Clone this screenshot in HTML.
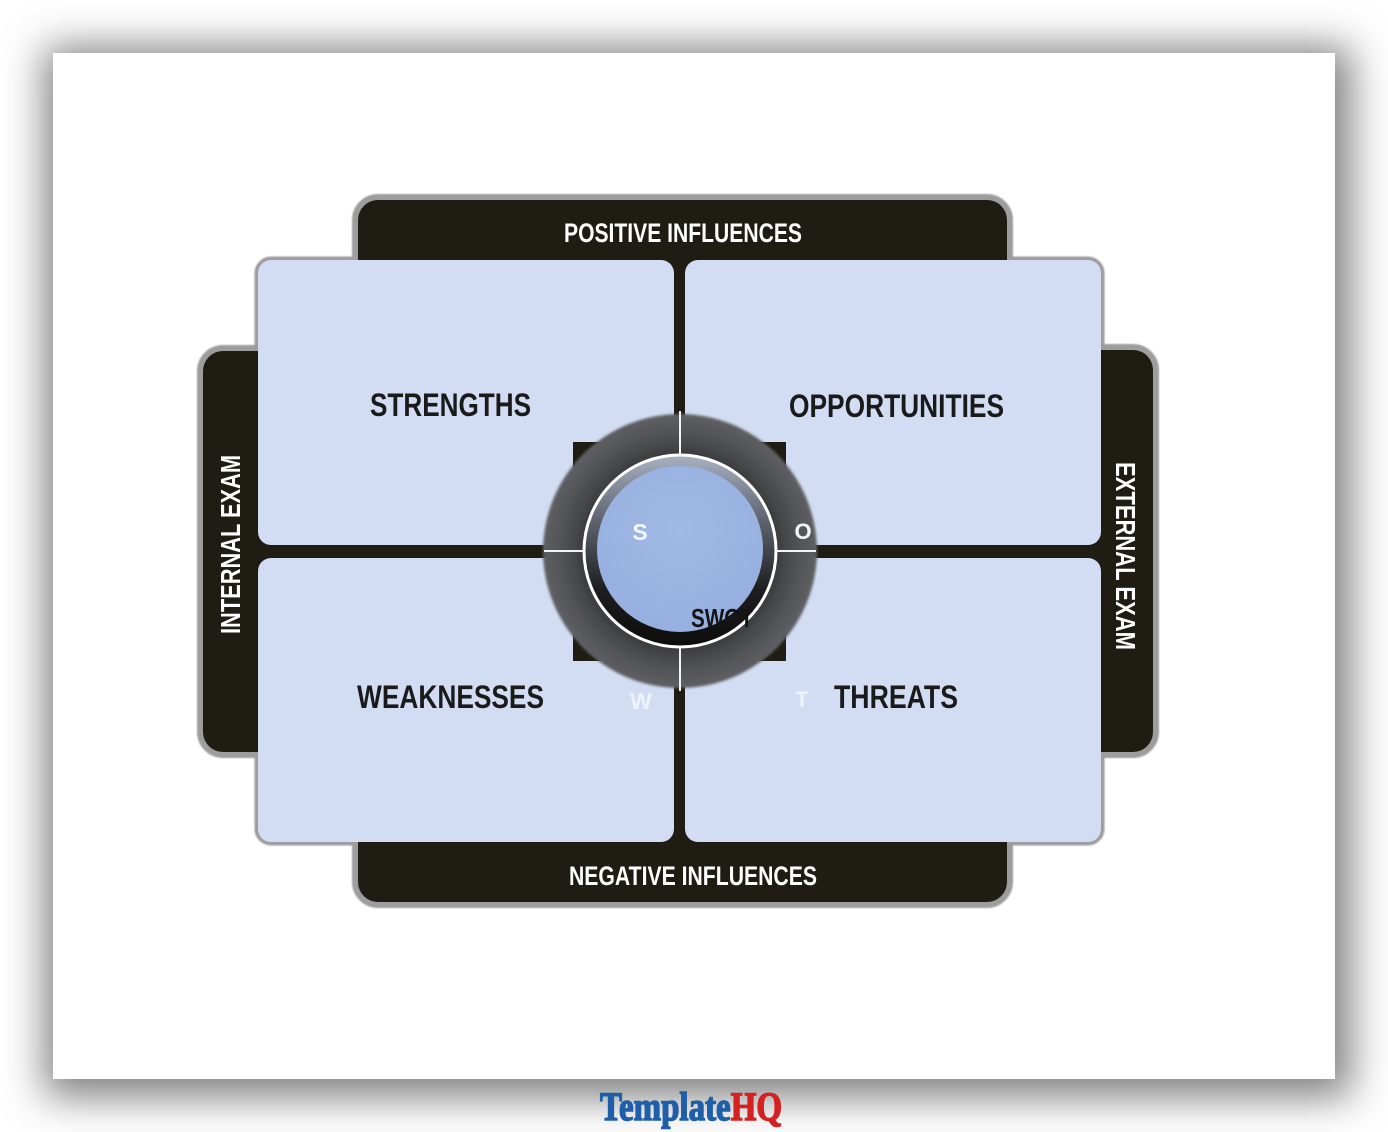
<!DOCTYPE html>
<html>
<head>
<meta charset="utf-8">
<style>
  html,body{margin:0;padding:0;background:#fff;}
  body{width:1388px;height:1132px;position:relative;overflow:hidden;}
  .page{position:absolute;left:53px;top:53px;width:1282px;height:1026px;background:#fff;
    box-shadow:4px 6px 38px 12px rgba(0,0,0,0.5);}
  svg{position:absolute;left:0;top:0;}
</style>
</head>
<body>
<div class="page"></div>
<svg width="1388" height="1132" viewBox="0 0 1388 1132" xmlns="http://www.w3.org/2000/svg">
  <defs>
    <radialGradient id="ringG" cx="680" cy="551" r="138" gradientUnits="userSpaceOnUse">
      <stop offset="0.68" stop-color="#38383a"/>
      <stop offset="0.78" stop-color="#48494c"/>
      <stop offset="0.9" stop-color="#56575b"/>
      <stop offset="0.97" stop-color="#5c5d61"/>
      <stop offset="1" stop-color="#66676b"/>
    </radialGradient>
    <linearGradient id="bandG" x1="0" y1="0" x2="0" y2="1">
      <stop offset="0" stop-color="#a9b1c2"/>
      <stop offset="0.35" stop-color="#5c616c"/>
      <stop offset="0.7" stop-color="#1e1e20"/>
      <stop offset="1" stop-color="#0c0c0c"/>
    </linearGradient>
    <radialGradient id="blueG" cx="680" cy="530" r="95" gradientUnits="userSpaceOnUse">
      <stop offset="0" stop-color="#a0b9e6"/>
      <stop offset="1" stop-color="#97b0df"/>
    </radialGradient>
    <filter id="soft" x="-10%" y="-10%" width="120%" height="120%">
      <feGaussianBlur stdDeviation="1.2"/>
    </filter>
    <filter id="soft2" x="-10%" y="-10%" width="120%" height="120%">
      <feGaussianBlur stdDeviation="0.8"/>
    </filter>
  </defs>

  <!-- gray outlines -->
  <g fill="#9d9d9d" stroke="#9d9d9d" stroke-width="12" filter="url(#soft2)">
    <rect x="358" y="200" width="649" height="120" rx="20"/>
    <rect x="358" y="790" width="649" height="112" rx="20"/>
    <rect x="203" y="351" width="100" height="401" rx="20"/>
    <rect x="1053" y="350" width="100" height="402" rx="20"/>
  </g>
  <g fill="#9d9d9d" stroke="#9d9d9d" stroke-width="7" filter="url(#soft2)">
    <rect x="258" y="260" width="416" height="285" rx="13"/>
    <rect x="685" y="260" width="416" height="285" rx="13"/>
    <rect x="258" y="558" width="416" height="284" rx="13"/>
    <rect x="685" y="558" width="416" height="284" rx="13"/>
  </g>

  <!-- black frame -->
  <g fill="#1f1c13">
    <rect x="358" y="200" width="649" height="120" rx="20"/>
    <rect x="358" y="790" width="649" height="112" rx="20"/>
    <rect x="203" y="351" width="100" height="401" rx="20"/>
    <rect x="1053" y="350" width="100" height="402" rx="20"/>
    <rect x="262" y="264" width="835" height="574"/>
  </g>

  <!-- panels -->
  <g fill="#d2ddf3">
    <rect x="258" y="260" width="416" height="285" rx="13"/>
    <rect x="685" y="260" width="416" height="285" rx="13"/>
    <rect x="258" y="558" width="416" height="284" rx="13"/>
    <rect x="685" y="558" width="416" height="284" rx="13"/>
  </g>

  <!-- center black square -->
  <rect x="573" y="442" width="213" height="219" fill="#1f1c13"/>

  <!-- ring -->
  <circle cx="680" cy="551" r="137" fill="url(#ringG)" filter="url(#soft)"/>
  <g stroke="#f4f4f4" stroke-width="2">
    <line x1="680" y1="411" x2="680" y2="455"/>
    <line x1="680" y1="647" x2="680" y2="691"/>
    <line x1="544" y1="551" x2="584" y2="551"/>
    <line x1="776" y1="551" x2="816" y2="551"/>
  </g>
  <circle cx="680" cy="551" r="96" fill="url(#bandG)" stroke="#ffffff" stroke-width="3"/>
  <circle cx="680" cy="549" r="83" fill="url(#blueG)"/>

  <!-- ring letters -->
  <g font-family="Liberation Sans, Arial, sans-serif" font-weight="bold" text-anchor="middle">
    <text x="640" y="540" font-size="23" fill="#f4f6fb">S</text>
    <text x="803" y="539" font-size="22" fill="#f4f6fb">O</text>
    <text x="641" y="709" font-size="23" fill="#eef2fb">W</text>
    <text x="802" y="707" font-size="22" fill="#eef2fb">T</text>
  </g>
  <text x="691" y="627" font-family="Liberation Sans, Arial, sans-serif" font-weight="bold" font-size="26" fill="#141414" textLength="62" lengthAdjust="spacingAndGlyphs">SWOT</text>

  <!-- panel labels -->
  <g font-family="Liberation Sans, Arial, sans-serif" font-weight="bold" font-size="32" fill="#1a1a1a">
    <text x="370" y="416" textLength="161" lengthAdjust="spacingAndGlyphs">STRENGTHS</text>
    <text x="789" y="417" textLength="215" lengthAdjust="spacingAndGlyphs">OPPORTUNITIES</text>
    <text x="357" y="708" textLength="187" lengthAdjust="spacingAndGlyphs">WEAKNESSES</text>
    <text x="834" y="708" textLength="124" lengthAdjust="spacingAndGlyphs">THREATS</text>
  </g>

  <!-- bar labels -->
  <g font-family="Liberation Sans, Arial, sans-serif" font-weight="bold" fill="#ffffff">
    <text x="564" y="242" font-size="27" textLength="238" lengthAdjust="spacingAndGlyphs">POSITIVE INFLUENCES</text>
    <text x="569" y="885" font-size="27" textLength="248" lengthAdjust="spacingAndGlyphs">NEGATIVE INFLUENCES</text>
    <text transform="translate(240,634) rotate(-90)" x="0" y="0" font-size="28" textLength="179" lengthAdjust="spacingAndGlyphs">INTERNAL EXAM</text>
    <text transform="translate(1116,462) rotate(90)" x="0" y="0" font-size="28" textLength="188" lengthAdjust="spacingAndGlyphs">EXTERNAL EXAM</text>
  </g>

  <!-- logo -->
  <text x="600" y="1120" font-family="Liberation Serif, serif" font-weight="bold" font-size="40" stroke-width="1.5" textLength="182" lengthAdjust="spacingAndGlyphs"><tspan fill="#1f5ea8" stroke="#1f5ea8">Template</tspan><tspan fill="#d42222" stroke="#d42222">HQ</tspan></text>
</svg>
</body>
</html>
